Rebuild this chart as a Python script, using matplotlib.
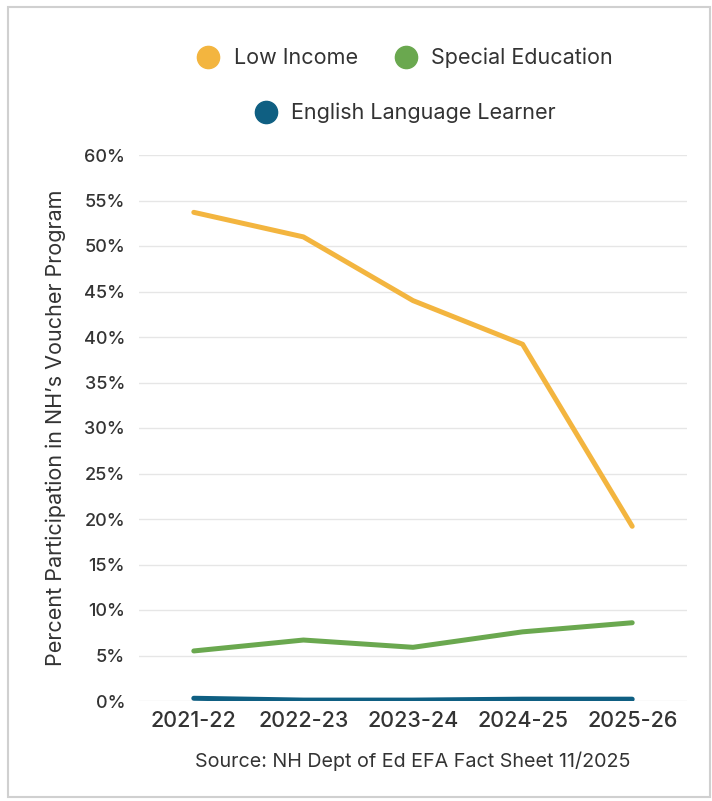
import matplotlib
matplotlib.use("Agg")
import matplotlib.pyplot as plt
from matplotlib.lines import Line2D
from matplotlib.patches import Rectangle

plt.rcParams['font.family'] = ['Inter', 'DejaVu Sans']

years = ["2021-22", "2022-23", "2023-24", "2024-25", "2025-26"]
low_income = [53.7, 51.0, 44.0, 39.2, 19.2]
special_ed = [5.5, 6.7, 5.9, 7.6, 8.6]
ell = [0.3, 0.1, 0.1, 0.2, 0.2]
yticks = [0, 5, 10, 15, 20, 25, 30, 35, 40, 45, 50, 55, 60]

c_low = "#F3B53F"
c_sped = "#6AA84F"
c_ell = "#0F5F82"
txt = "#333333"

fig = plt.figure(figsize=(7.12, 8.01), dpi=100)
fig.patch.set_facecolor("white")
fig.patches.append(Rectangle((8/712, 4/801), 702/712, 790/801, transform=fig.transFigure,
                             facecolor="none", edgecolor="#d0d0d0", linewidth=1.5, zorder=-1))

ax = fig.add_axes([139/712, 100/801, 548/712, 546/801])
x = range(len(years))
ax.plot(x, ell, color=c_ell, lw=3.6, solid_capstyle="round", zorder=3)
ax.plot(x, special_ed, color=c_sped, lw=3.6, solid_capstyle="round", zorder=3)
ax.plot(x, low_income, color=c_low, lw=3.6, solid_capstyle="round", zorder=3)

ax.set_xlim(-0.5, len(years) - 0.5)
ax.set_ylim(0, 60)
ax.set_yticks(yticks)
ax.set_yticklabels([f"{v}%" for v in yticks], fontweight="medium")
ax.set_xticks(list(x))
ax.set_xticklabels(years, fontweight="medium")
ax.tick_params(axis="both", length=0, labelsize=13, colors=txt)
ax.tick_params(axis="x", labelsize=15.5, pad=7)
ax.tick_params(axis="y", pad=10)
for s in ax.spines.values():
    s.set_visible(False)
ax.grid(axis="y", color="#e6e6e6", lw=1)
ax.set_axisbelow(True)
ax.set_ylabel("Percent Participation in NH\u2019s Voucher Program", fontsize=15.5, color=txt, labelpad=13)

def handle(c):
    return Line2D([], [], marker="o", linestyle="none", markersize=16, markerfacecolor=c, markeredgecolor=c)

leg1 = fig.legend([handle(c_low), handle(c_sped)], ["Low Income", "Special Education"],
                  loc="center", bbox_to_anchor=(400/712, 1 - 58/801), ncol=2, frameon=False,
                  fontsize=15.5, handletextpad=0.2, columnspacing=1.2, labelcolor=txt)
leg2 = fig.legend([handle(c_ell)], ["English Language Learner"],
                  loc="center", bbox_to_anchor=(400/712, 1 - 113/801), frameon=False,
                  fontsize=15.5, handletextpad=0.2, labelcolor=txt)

fig.text(413/712, 1 - 761/801, "Source: NH Dept of Ed EFA Fact Sheet 11/2025",
         ha="center", va="center", fontsize=14.2, color=txt)

fig.savefig("out.png", dpi=100, facecolor="white")
